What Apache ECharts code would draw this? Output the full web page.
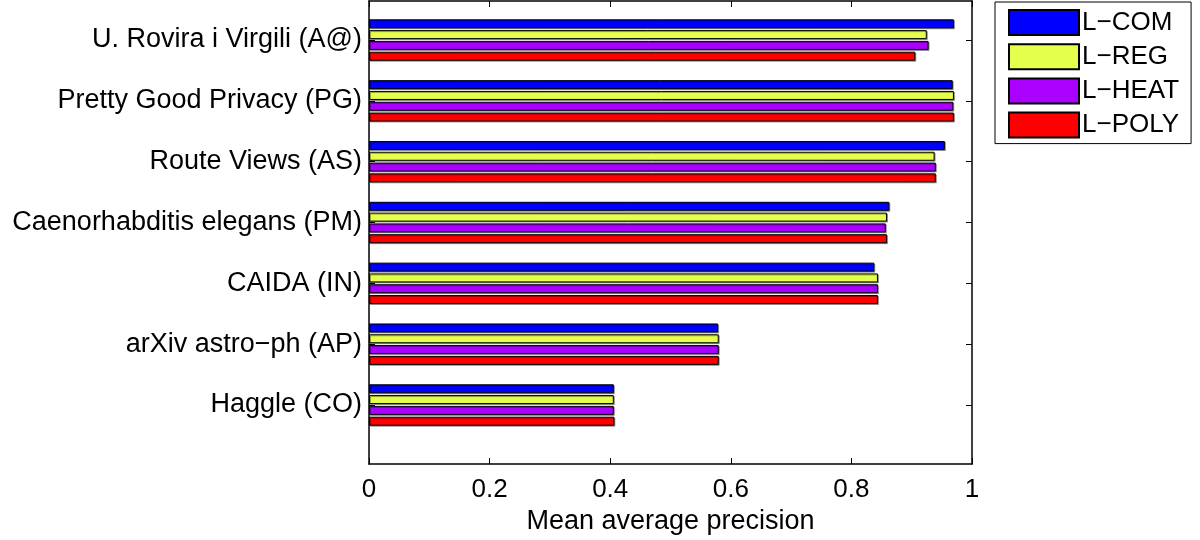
<!DOCTYPE html>
<html>
<head>
<meta charset="utf-8">
<script src="https://cdn.jsdelivr.net/npm/echarts@6/dist/echarts.min.js"></script>
<style>html,body{margin:0;padding:0;background:#fff}#c{width:1200px;height:540px}</style>
</head>
<body>
<div id="c"></div>
<script>
// Data (top to bottom)
var categories = ['U. Rovira i Virgili (A@)', 'Pretty Good Privacy (PG)', 'Route Views (AS)',
  'Caenorhabditis elegans (PM)', 'CAIDA (IN)', 'arXiv astro\u2212ph (AP)', 'Haggle (CO)'];
var seriesNames = ['L\u2212COM', 'L\u2212REG', 'L\u2212HEAT', 'L\u2212POLY'];
var lCom  = [0.970, 0.968, 0.955, 0.863, 0.838, 0.579, 0.406];
var lReg  = [0.925, 0.970, 0.938, 0.859, 0.844, 0.580, 0.406];
var lHeat = [0.928, 0.969, 0.940, 0.857, 0.844, 0.580, 0.406];
var lPoly = [0.906, 0.970, 0.940, 0.859, 0.844, 0.580, 0.407];
var xTicks = [0, 0.2, 0.4, 0.6, 0.8, 1];

var colors = ['#0000ff', '#e6ff4c', '#aa00ff', '#ff0000'];
var values = [lCom, lReg, lHeat, lPoly];
var FONT = 'Liberation Sans, Arial, sans-serif';

var chart = echarts.init(document.getElementById('c'), null, {renderer: 'canvas'});

var series = seriesNames.map(function (n, i) {
  return {
    name: n, type: 'bar', xAxisIndex: 2, yAxisIndex: 2,
    data: values[i], barWidth: 9, barGap: '20%',
    itemStyle: {color: colors[i], borderColor: '#000', borderWidth: 1,
      shadowColor: 'rgba(0,0,0,0.35)', shadowOffsetX: 1, shadowOffsetY: 1, shadowBlur: 0},
    emphasis: {disabled: true}, animation: false
  };
});

var frameLine = {show: true, onZero: false, lineStyle: {color: '#000', width: 1.5}};

chart.setOption({
  animation: false,
  backgroundColor: '#fff',
  legend: {
    orient: 'vertical', left: 995, top: 2,
    data: seriesNames,
    itemWidth: 70, itemHeight: 25, itemGap: 7.2,
    icon: 'rect',
    padding: [7, 12, 5, 13],
    borderColor: '#000', borderWidth: 1,
    textStyle: {fontFamily: FONT, fontSize: 26, lineHeight: 25, color: '#000', padding: [0, 0, 0, -2]},
    selectedMode: false
  },
  grid: [
    {left: 369, right: 228, top: 1, bottom: 75},
    {left: 369, right: 228, top: 9.6, height: 425.8}
  ],
  xAxis: [
    {gridIndex: 0, type: 'value', min: 0, max: 1, interval: 0.2, position: 'bottom',
      axisLine: frameLine,
      axisTick: {show: true, inside: true, length: 6, lineStyle: {color: '#000'}},
      axisLabel: {fontFamily: FONT, fontSize: 26, color: '#000', margin: 13,
        formatter: function (v) { return String(+v.toFixed(1)); }},
      splitLine: {show: false},
      name: 'Mean average precision', nameLocation: 'middle', nameGap: 44,
      nameTextStyle: {fontFamily: FONT, fontSize: 27, color: '#000'}},
    {gridIndex: 0, type: 'value', min: 0, max: 1, interval: 0.2, position: 'top',
      axisLine: frameLine,
      axisTick: {show: true, inside: true, length: 6, lineStyle: {color: '#000'}},
      axisLabel: {show: false}, splitLine: {show: false}},
    {gridIndex: 1, type: 'value', min: 0, max: 1, show: false}
  ],
  yAxis: [
    {gridIndex: 0, type: 'value', min: 0, max: 1, position: 'left',
      axisLine: frameLine,
      axisTick: {show: false}, axisLabel: {show: false}, splitLine: {show: false}},
    {gridIndex: 0, type: 'value', min: 0, max: 1, position: 'right',
      axisLine: frameLine,
      axisTick: {show: false}, axisLabel: {show: false}, splitLine: {show: false}},
    {gridIndex: 1, type: 'category', data: categories, inverse: true, position: 'left',
      axisLine: {show: false},
      axisTick: {show: true, inside: true, length: 6, alignWithLabel: true, lineStyle: {color: '#000'}},
      axisLabel: {fontFamily: FONT, fontSize: 27, color: '#000', margin: 7}},
    {gridIndex: 1, type: 'category', data: categories, inverse: true, position: 'right',
      axisLine: {show: false},
      axisTick: {show: true, inside: true, length: 6, alignWithLabel: true, lineStyle: {color: '#000'}},
      axisLabel: {show: false}}
  ],
  series: series
});
</script>
</body>
</html>
